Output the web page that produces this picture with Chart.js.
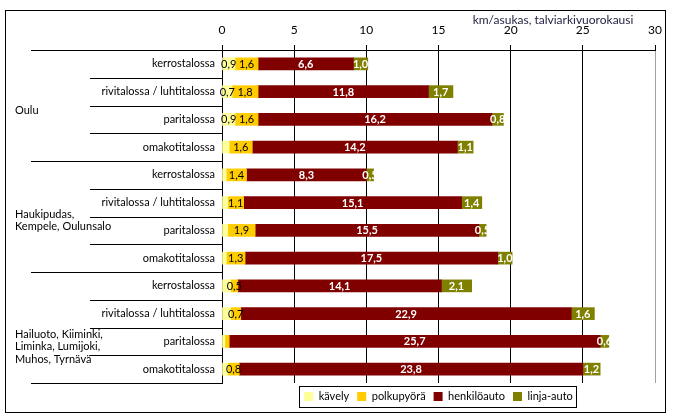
<!DOCTYPE html>
<html>
<head>
<meta charset="utf-8">
<script src="https://cdn.jsdelivr.net/npm/chart.js@4.4.1/dist/chart.umd.min.js"></script>
<style>
  body { margin: 0; background: #fff; }
  #wrap { width: 698px; height: 420px; }
</style>
</head>
<body>
<div id="wrap"><canvas id="chart"></canvas></div>
<script>
// rows, top to bottom
var categories = [
    'kerrostalossa', 'rivitalossa / luhtitalossa', 'paritalossa', 'omakotitalossa',
    'kerrostalossa', 'rivitalossa / luhtitalossa', 'paritalossa', 'omakotitalossa',
    'kerrostalossa', 'rivitalossa / luhtitalossa', 'paritalossa', 'omakotitalossa'
];
var groups = [
    ['Oulu'],
    ['Haukipudas,', 'Kempele, Oulunsalo'],
    ['Hailuoto, Kiiminki,', 'Liminka, Lumijoki,', 'Muhos, Tyrnävä']
];
var seriesNames = ['kävely', 'polkupyörä', 'henkilöauto', 'linja-auto'];

var kavely      = [0.9, 0.7, 0.9, 0.5, 0.3, 0.4, 0.4, 0.3, 0.6, 0.6, 0.2, 0.4];
var polkupyora  = [1.6, 1.8, 1.6, 1.6, 1.4, 1.1, 1.9, 1.3, 0.5, 0.7, 0.3, 0.8];
var henkiloauto = [6.6, 11.8, 16.2, 14.2, 8.3, 15.1, 15.5, 17.5, 14.1, 22.9, 25.7, 23.8];
var linjaAuto   = [1.0, 1.7, 0.8, 1.1, 0.5, 1.4, 0.5, 1.0, 2.1, 1.6, 0.6, 1.2];

// which value labels are visible in the original (per series, per row)
var kavelyLabel     = [1, 1, 1, 0, 0, 0, 0, 0, 0, 0, 0, 0];
var polkupyoraLabel = [1, 1, 1, 1, 1, 1, 1, 1, 1, 1, 0, 1];

var xTicks = [0, 5, 10, 15, 20, 25, 30];
var axisTitle = 'km/asukas, talviarkivuorokausi';

var FONT = 'Lato';

function fmt(v) {
    return v.toFixed(1).replace('.', ',');
}

var framePlugin = {
    id: 'frame',
    beforeDraw: function (chart) {
        var c = chart.ctx;
        c.save();
        c.fillStyle = '#fff';
        c.fillRect(0, 0, chart.width, chart.height);
        c.strokeStyle = '#000';
        c.lineWidth = 1;
        c.strokeRect(5.5, 10.5, 660, 402);
        c.restore();
    },
    afterDraw: function (chart) {
        var c = chart.ctx;
        var y = chart.scales.y;
        var area = chart.chartArea;
        c.save();
        c.strokeStyle = '#000';
        c.lineWidth = 1;
        // category separators on the left
        for (var i = 0; i <= categories.length; i++) {
            var py;
            if (i === 0) py = area.top;
            else if (i === categories.length) py = area.bottom;
            else py = (y.getPixelForValue(i - 1) + y.getPixelForValue(i)) / 2;
            py = Math.round(py) + 0.5;
            var x0 = (i % 4 === 0) ? 31 : 90;
            c.beginPath();
            c.moveTo(x0, py);
            c.lineTo(area.left, py);
            c.stroke();
        }
        // group labels
        c.fillStyle = '#000';
        c.font = '11px ' + FONT;
        c.textAlign = 'left';
        c.textBaseline = 'middle';
        var offs = [5, 4, 19];
        groups.forEach(function (lines, g) {
            var mid = (y.getPixelForValue(g * 4 + 1) + y.getPixelForValue(g * 4 + 2)) / 2 + offs[g];
            var lh = 12.5;
            var start = mid - (lines.length - 1) * lh / 2;
            lines.forEach(function (t, k) {
                c.fillText(t, 15, start + k * lh);
            });
        });
        // axis title
        c.font = '12px ' + FONT;
        c.textAlign = 'center';
        c.fillStyle = '#1f1f3f';
        c.fillText(axisTitle, 553, 20);
        // legend frame
        var hb = chart.legend.legendHitBoxes;
        if (hb && hb.length) {
            var l = Infinity, r = -Infinity, t = Infinity, b = -Infinity;
            hb.forEach(function (h) {
                l = Math.min(l, h.left); r = Math.max(r, h.left + h.width);
                t = Math.min(t, h.top); b = Math.max(b, h.top + h.height);
            });
            c.strokeRect(Math.round(l - 5) + 0.5, Math.round(t - 5) + 0.5, Math.round(r - l + 8), Math.round(b - t + 10));
        }
        c.restore();
    }
};

var labelPlugin = {
    id: 'valueLabels',
    afterDatasetsDraw: function (chart) {
        var c = chart.ctx;
        c.save();
        c.textAlign = 'center';
        c.textBaseline = 'middle';
        chart.data.datasets.forEach(function (ds, di) {
            var meta = chart.getDatasetMeta(di);
            meta.data.forEach(function (el, i) {
                if (di === 0 && !kavelyLabel[i]) return;
                if (di === 1 && !polkupyoraLabel[i]) return;
                var p = el.getProps(['x', 'base', 'y'], true);
                var dark = di >= 2;
                c.font = (dark ? 'bold ' : '') + '11px ' + FONT;
                c.fillStyle = dark ? '#fff' : '#000';
                c.fillText(fmt(ds.data[i]), (p.x + p.base) / 2, p.y + 0.5);
            });
        });
        c.restore();
    }
};

var colors = ['#FFFF99', '#FFCC00', '#800000', '#808000'];
var values = [kavely, polkupyora, henkiloauto, linjaAuto];

var ctx = document.getElementById('chart').getContext('2d');
var myChart = new Chart(ctx, {
    type: 'bar',
    data: {
        labels: categories,
        datasets: seriesNames.map(function (name, i) {
            return {
                label: name,
                data: values[i],
                backgroundColor: colors[i],
                borderWidth: 0,
                barThickness: 12
            };
        })
    },
    options: {
        indexAxis: 'y',
        responsive: true,
        maintainAspectRatio: false,
        animation: false,
        layout: { padding: { left: 0, right: 43, top: 0, bottom: 8 } },
        scales: {
            x: {
                position: 'top',
                stacked: true,
                min: 0,
                max: 30,
                afterBuildTicks: function (s) {
                    s.ticks = xTicks.map(function (v) { return { value: v }; });
                },
                afterFit: function (s) { s.height = 50; },
                ticks: {
                    font: { family: FONT, size: 12 },
                    color: '#000',
                    padding: 8
                },
                grid: {
                    color: function (c) { return c.tick && c.tick.value === 30 ? '#a0a0a0' : '#000'; },
                    tickLength: 5,
                    tickColor: '#000'
                },
                border: { display: true, color: '#000' }
            },
            y: {
                stacked: true,
                afterFit: function (s) { s.width = 222; },
                ticks: {
                    font: { family: FONT, size: 11 },
                    color: '#000',
                    padding: 7
                },
                grid: { drawOnChartArea: false, drawTicks: false },
                border: { display: true, color: '#000' }
            }
        },
        plugins: {
            legend: {
                position: 'bottom',
                fullSize: false,
                labels: {
                    font: { family: FONT, size: 11 },
                    color: '#000',
                    boxWidth: 9,
                    boxHeight: 9,
                    padding: 8
                }
            },
            tooltip: { enabled: false }
        }
    },
    plugins: [framePlugin, labelPlugin]
});
</script>
</body>
</html>
